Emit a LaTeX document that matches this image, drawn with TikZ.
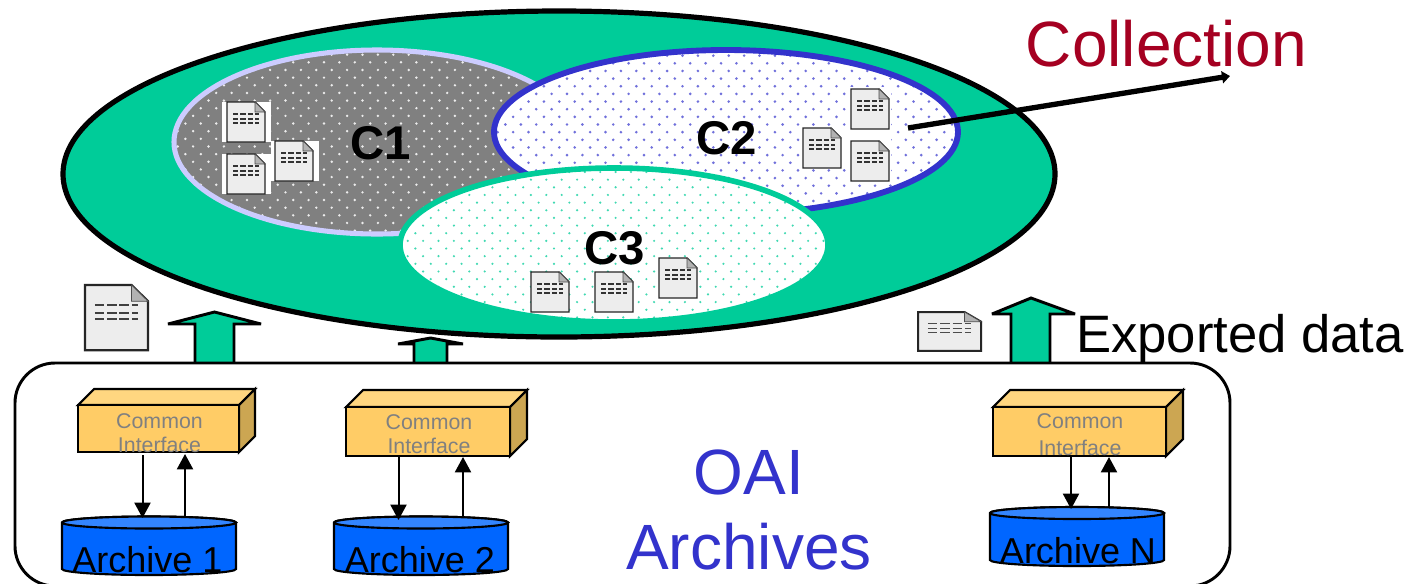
\documentclass[tikz,border=0pt]{standalone}
\usepackage{fontspec}
\setmainfont{Liberation Sans}
\usetikzlibrary{arrows.meta}
\definecolor{grn}{HTML}{00CC99}
\definecolor{blu}{HTML}{3333CC}
\definecolor{lav}{HTML}{CCCCFF}
\definecolor{red1}{HTML}{A50021}
\definecolor{boxf}{HTML}{FFCC66}
\definecolor{boxt}{HTML}{FFD680}
\definecolor{boxs}{HTML}{CCA652}
\definecolor{cyl}{HTML}{0066FF}
\definecolor{cylt}{HTML}{3385FF}
\newcommand{\fsz}[1]{\fontsize{#1}{#1}\selectfont}
\newcommand{\dotfield}[6]{% x0 y0 cols rows radius colour
  \foreach \j in {0,...,#4}{
    \foreach \i in {0,...,#3}{
      \pgfmathsetmacro{\dx}{#1+15.4*\i+7.7*mod(\j,2)}
      \pgfmathsetmacro{\dy}{#2+7.65*\j}
      \fill[#6] (\dx,\dy) circle (#5);
    }
  }
}
\newcommand{\ifbox}[6]{% name x0 x1 y0 y1 off
  \path[boxface,fill=boxt] (#2,#4) -- ++(#6,-#6) -- (#3+#6,#4-#6) -- (#3,#4) -- cycle;
  \path[boxface,fill=boxs] (#3,#4) -- ++(#6,-#6) -- (#3+#6,#5-#6) -- (#3,#5) -- cycle;
  \path[boxface,fill=boxf] (#2,#4) rectangle (#3,#5);
}
\newcommand{\arch}[4]{% x0 x1 ytop ybottom
  \path[boxface,fill=cyl] (#1,#3) -- (#1,#4) arc[start angle=180,end angle=0,x radius={(#2-#1)/2},y radius=6] -- (#2,#3) arc[start angle=0,end angle=-180,x radius={(#2-#1)/2},y radius=6] -- cycle;
  \path[boxface,fill=cylt] (#1,#3) arc[start angle=180,end angle=540,x radius={(#2-#1)/2},y radius=6];
}
\tikzset{
  boxface/.style={draw=black,line width=1.6pt,line join=miter},
  blockarrow/.style={draw=black,fill=grn,line width=2.2pt,line join=miter,miter limit=2},
  thinarrow/.style={draw=black,line width=1.5pt,-{Triangle[length=11.5pt,width=12pt]}},
  label/.style={anchor=base,inner sep=0pt,outer sep=0pt},
  iface/.style={label,text=gray,font=\fsz{16}},
  archlabel/.style={label,text=black,font=\fsz{27}},
  clabel/.style={label,text=black,font=\bfseries\fsz{35.5}},
  bigblue/.style={label,text=blu,font=\fsz{48}},
  docline/.style={black!80,line width=.9pt,dash pattern=on 4pt off 1.6pt},
  docedge/.style={line width=1.1pt},
  docicon/.pic={
    \path[draw=black!85,fill=black!7,line join=miter,docedge] (0,0) -- (28,0) -- (38,10) -- (38,40) -- (0,40) -- cycle;
    \path[draw=black!70,fill=black!30,line width=.5pt] (28,0) -- (38,10) -- (28,10) -- cycle;
    \foreach \yy in {12,17,21}{
      \draw[docline] (6,\yy) -- (32,\yy);
    }
  }
}
\begin{document}
\begin{tikzpicture}[x=0.75pt,y=-0.75pt]
\useasboundingbox (0,0) rectangle (1420,583);
\fill[white] (0,0) rectangle (1420,583);
% outer collection
\path[draw=black,fill=grn,line width=3.9pt] (559,174) ellipse [x radius=496,y radius=163];
% C1
\fill[gray] (377,142) ellipse [x radius=203,y radius=92];
\begin{scope}
\clip (377,142) ellipse [x radius=203,y radius=92];
\dotfield{170}{47}{28}{26}{1.35}{white!85!gray}
\end{scope}
\draw[lav,line width=3.8pt] (377,142) ellipse [x radius=203,y radius=92];
% C2
\fill[white] (726,132) ellipse [x radius=232,y radius=82];
\begin{scope}
\clip (726,132) ellipse [x radius=232,y radius=82];
\dotfield{490}{48}{32}{23}{1.45}{blu!70!white}
\end{scope}
\draw[blu,line width=4.4pt] (726,132) ellipse [x radius=232,y radius=82];
% C3
\fill[white] (614,245) ellipse [x radius=214,y radius=77];
\begin{scope}
\clip (614,245) ellipse [x radius=214,y radius=77];
\dotfield{400}{172}{28}{20}{1.2}{grn!75!white}
\end{scope}
\draw[grn,line width=4.2pt] (614,245) ellipse [x radius=214,y radius=77];
% documents in C1
\fill[white] (222,102) rectangle (271,142);
\fill[white] (222,154) rectangle (271,194);
\fill[white] (271,141) rectangle (319,181);
\pic at (227,102) {docicon};
\pic at (227,154) {docicon};
\pic at (275,141) {docicon};
% documents in C2
\fill[white] (849,87) rectangle (891,182);
\fill[white] (801,126) rectangle (849,169);
\pic at (851,89) {docicon};
\pic at (803,128) {docicon};
\pic at (851,141) {docicon};
% documents in C3
\pic at (531,272) {docicon};
\pic at (595,272) {docicon};
\pic at (659,258) {docicon};
% exported documents
\pic[xscale=1.66,yscale=1.63,docedge/.style={line width=1.7pt},docline/.style={black!75,line width=1.6pt,dash pattern=on 7pt off 2.2pt}] at (85,285) {docicon};
\pic[xscale=1.66,yscale=.97,docedge/.style={line width=1.5pt},docline/.style={black!70,line width=1pt,dash pattern=on 7pt off 2.2pt}] at (918,312) {docicon};
% block arrows
\path[blockarrow] (195,363) -- (195,324) -- (168,324) -- (214.5,312) -- (261,324) -- (234,324) -- (234,363);
\path[blockarrow] (414,363) -- (414,344) -- (398,344) -- (430.5,338) -- (463,344) -- (447,344) -- (447,363);
\path[blockarrow] (1011,363) -- (1011,314) -- (992,314) -- (1031,298) -- (1075,314) -- (1050,314) -- (1050,363);
% OAI container
\draw[black,line width=2.2pt,rounded corners=30pt] (15,363) rectangle (1230,586);
% interface boxes
\ifbox{b1}{78}{239}{405}{452}{16}
\ifbox{b2}{346}{510}{407}{456}{17}
\ifbox{bn}{993}{1166}{407}{456}{17}
% archives
\arch{62}{236}{522.5}{569}
\arch{334}{508}{522.5}{569}
\arch{990}{1164}{513}{560}
% connectors
\coordinate (b1d) at (142.5,455); \coordinate (a1d) at (142.5,518);
\coordinate (b1u) at (185,454);   \coordinate (a1u) at (185,516);
\coordinate (b2d) at (398.5,456); \coordinate (a2d) at (398.5,520);
\coordinate (b2u) at (463,457);   \coordinate (a2u) at (463,517);
\coordinate (bnd) at (1071,456);  \coordinate (and) at (1071,509);
\coordinate (bnu) at (1109,457);  \coordinate (anu) at (1109,508);
\draw[thinarrow] (b1d) -- (a1d);
\draw[thinarrow] (a1u) -- (b1u);
\draw[thinarrow] (b2d) -- (a2d);
\draw[thinarrow] (a2u) -- (b2u);
\draw[thinarrow] (bnd) -- (and);
\draw[thinarrow] (anu) -- (bnu);
\coordinate (linestart) at (908,128);
\coordinate (lineend) at (1230,76);
\draw[black,line width=4pt,-{Triangle[length=6pt,width=9pt]}] (linestart) -- (lineend);
% labels
\node[label,text=red1,font=\fsz{48}] (coll) at (1166.5,66) {Collection};
\node[label,text=black,font=\fsz{39.5}] (exp) at (1240,352) {Exported data};
\node[clabel] (c1) at (381,159) {C1};
\node[clabel] (c2) at (727,154) {C2};
\node[clabel] (c3) at (615,264) {C3};
\node[bigblue] (oai) at (749,494) {OAI};
\node[bigblue] (arcs) at (749,569) {Archives};
\node[iface] (i1a) at (159.5,428) {Common};
\node[iface] (i1b) at (159.5,452.5) {Interface};
\node[iface] (i2a) at (429,429) {Common};
\node[iface] (i2b) at (429,453.5) {Interface};
\node[iface] (i3a) at (1080,428) {Common};
\node[iface] (i3b) at (1080,455) {Interface};
\node[archlabel] (a1) at (147.5,572) {Archive 1};
\node[archlabel] (a2) at (420,572) {Archive 2};
\node[archlabel] (an) at (1078,563) {Archive N};
\end{tikzpicture}
\end{document}
